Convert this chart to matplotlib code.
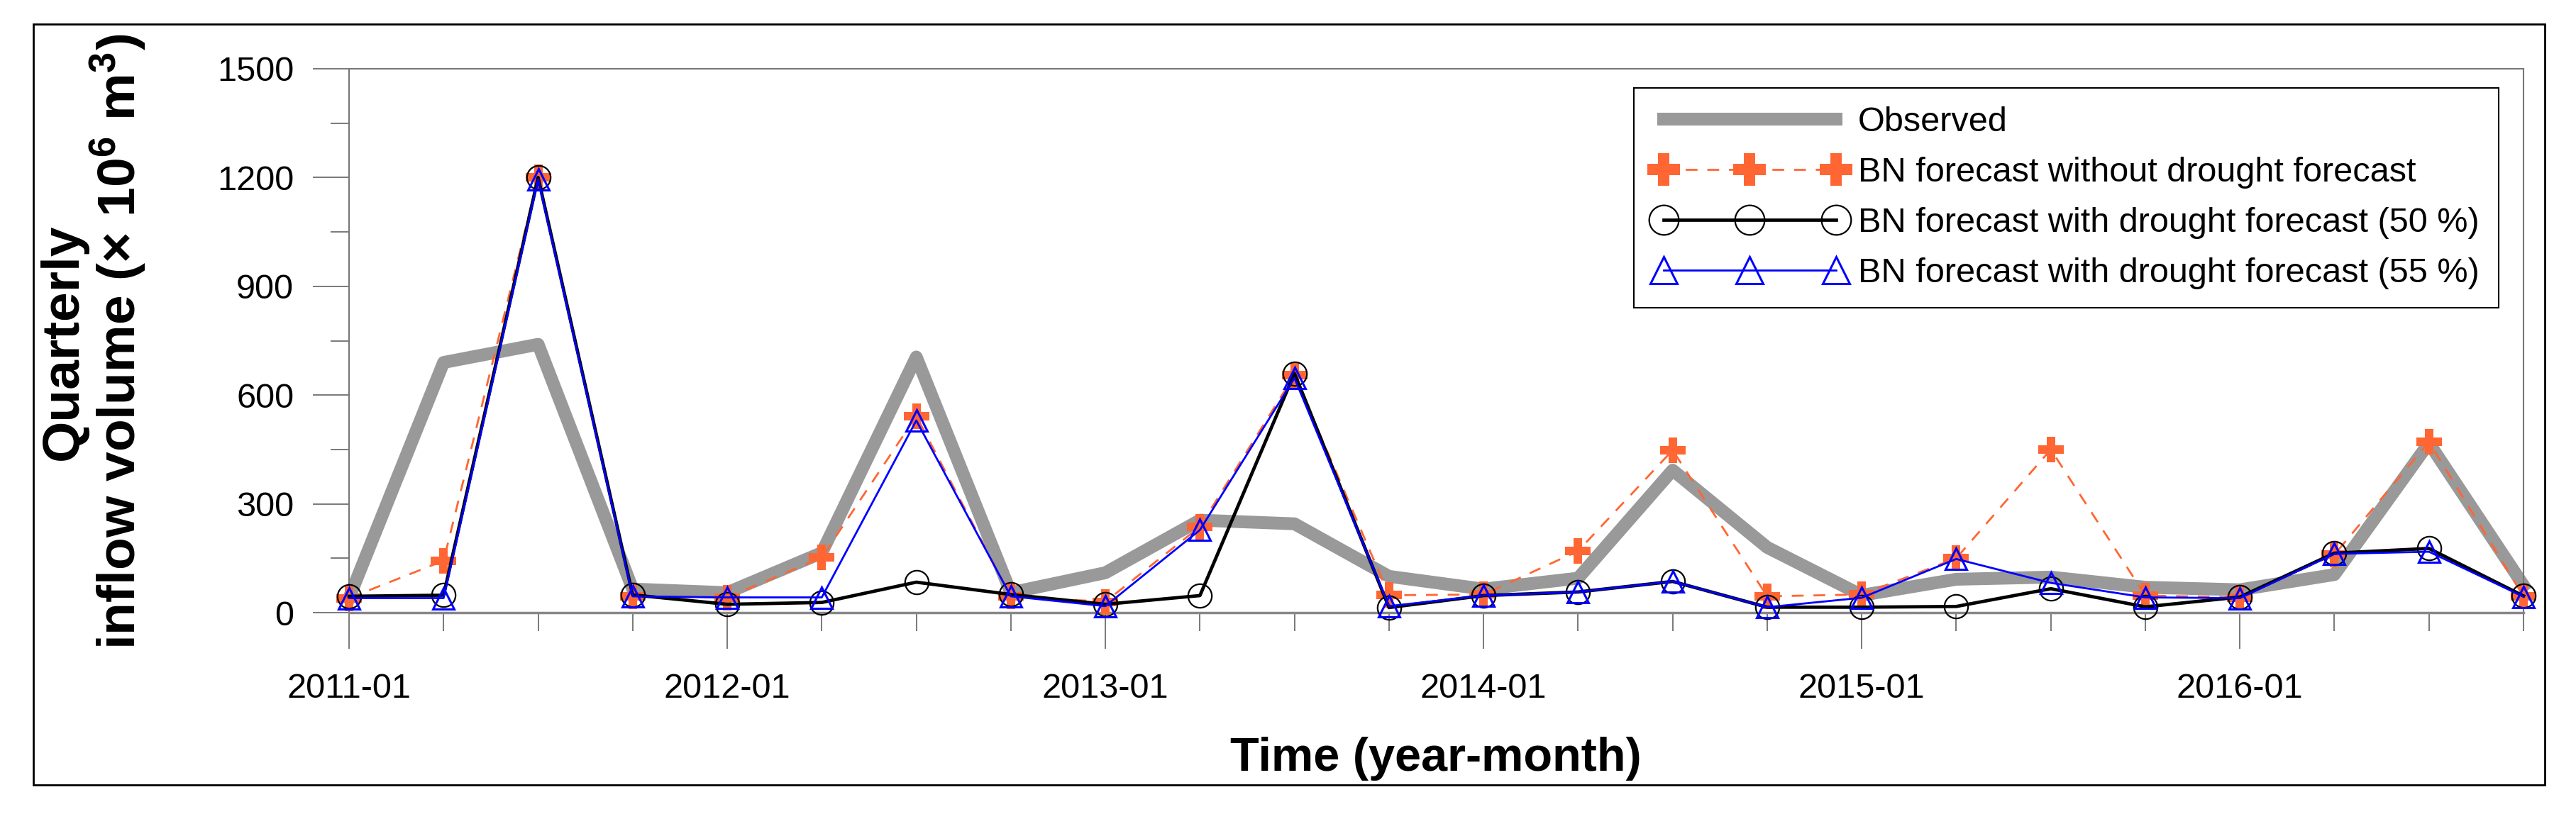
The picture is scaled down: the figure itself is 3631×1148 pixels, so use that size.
import matplotlib
matplotlib.use('Agg')
import matplotlib.pyplot as plt
from matplotlib.patches import Rectangle

plt.rcParams['font.family'] = ['Liberation Sans', 'DejaVu Sans']
plt.rcParams['mathtext.fontset'] = 'custom'
plt.rcParams['mathtext.rm'] = 'Liberation Sans:bold'
plt.rcParams['mathtext.bf'] = 'Liberation Sans:bold'
plt.rcParams['mathtext.default'] = 'bf'

# quarters 2011-01 ... 2016-10
quarters = list(range(24))
year_ticks = [0, 4, 8, 12, 16, 20]
year_labels = ['2011-01', '2012-01', '2013-01', '2014-01', '2015-01', '2016-01']

observed = [40, 690, 740, 65, 55, 165, 705, 55, 110, 255, 245, 100,
            65, 95, 393, 180, 48, 92, 98, 70, 63, 105, 468, 75]
bn_no_drought = [40, 143, 1200, 45, 42, 152, 542, 45, 30, 237, 655, 48,
                 50, 170, 448, 45, 50, 150, 450, 47, 42, 160, 471, 45]
bn_drought50 = [45, 48, 1200, 49, 23, 28, 84, 50, 23, 47, 660, 14,
                47, 57, 86, 15, 15, 17, 66, 16, 43, 164, 177, 46]
bn_drought55 = [40, 40, 1195, 45, 42, 42, 530, 45, 18, 228, 647, 18,
                47, 57, 86, 15, 41, 148, 82, 42, 40, 162, 168, 44]

W, H = 3631, 1148
fig = plt.figure(figsize=(W / 100, H / 100), dpi=100)
ax = fig.add_axes([492 / W, 1 - 864 / H, (3557 - 492) / W, (864 - 97) / H])

ax.plot(quarters, observed, color='#999999', lw=13, solid_joinstyle='round',
        label='Observed', clip_on=False, zorder=2)
ax.plot(quarters, bn_no_drought, color='#FF6633', lw=2, dashes=(6, 5),
        marker='P', ms=26, mec='#FF6633', mfc='#FF6633', mew=0,
        label='BN forecast without drought forecast', clip_on=False, zorder=3)
ax.plot(quarters, bn_drought50, color='black', lw=3.4,
        marker='o', ms=24, mfc='none', mec='black', mew=1.6,
        label='BN forecast with drought forecast (50 %)', clip_on=False, zorder=4)
ax.plot(quarters, bn_drought55, color='#0000FF', lw=2,
        marker='^', ms=22, mfc='none', mec='#0000FF', mew=2.2,
        label='BN forecast with drought forecast (55 %)', clip_on=False, zorder=5)

ax.set_xlim(0, 23)
ax.set_ylim(0, 1500)
ax.set_xticks(year_ticks)
ax.set_xticklabels(year_labels)
ax.set_xticks(quarters, minor=True)
ax.set_yticks(range(0, 1501, 300))
ax.set_yticks(range(150, 1500, 300), minor=True)

for s in ax.spines.values():
    s.set_color('#777777')
    s.set_linewidth(1.5)
ax.spines['bottom'].set_color('#888888')
ax.spines['bottom'].set_linewidth(2.5)

ax.tick_params(axis='both', which='major', direction='out', length=37,
               width=1.1, color='#555555', labelsize=35)
ax.tick_params(axis='both', which='minor', direction='out', length=19,
               width=1.1, color='#555555')
ax.tick_params(axis='x', which='major', pad=24)
ax.tick_params(axis='y', which='major', pad=19)

leg = ax.legend(loc='upper right', bbox_to_anchor=(0.9964, 0.997),
                fontsize=35, numpoints=3, handlelength=5.6, handletextpad=0.35,
                labelspacing=0.53, borderpad=0.55, borderaxespad=0.5,
                markerscale=1.25, fancybox=False, framealpha=1,
                edgecolor='black')
leg.get_frame().set_linewidth(1.5)

fig.text(132 / W, 1 - 482 / H,
         'Quarterly\ninflow volume (\u00d7 10$^{6}$ m$^{3}$)',
         rotation=90, ha='center', va='center', multialignment='center',
         fontsize=54, fontweight='bold', linespacing=1.0)
fig.text(2024 / W, 1 - 1070 / H, 'Time (year-month)', ha='center', va='center',
         fontsize=48, fontweight='bold')

fig.patches.append(Rectangle((47 / W, 1 - 1107 / H), (3587 - 47) / W,
                             (1107 - 34) / H, transform=fig.transFigure,
                             fill=False, edgecolor='black', lw=2))

fig.savefig('out.png', dpi=100)
